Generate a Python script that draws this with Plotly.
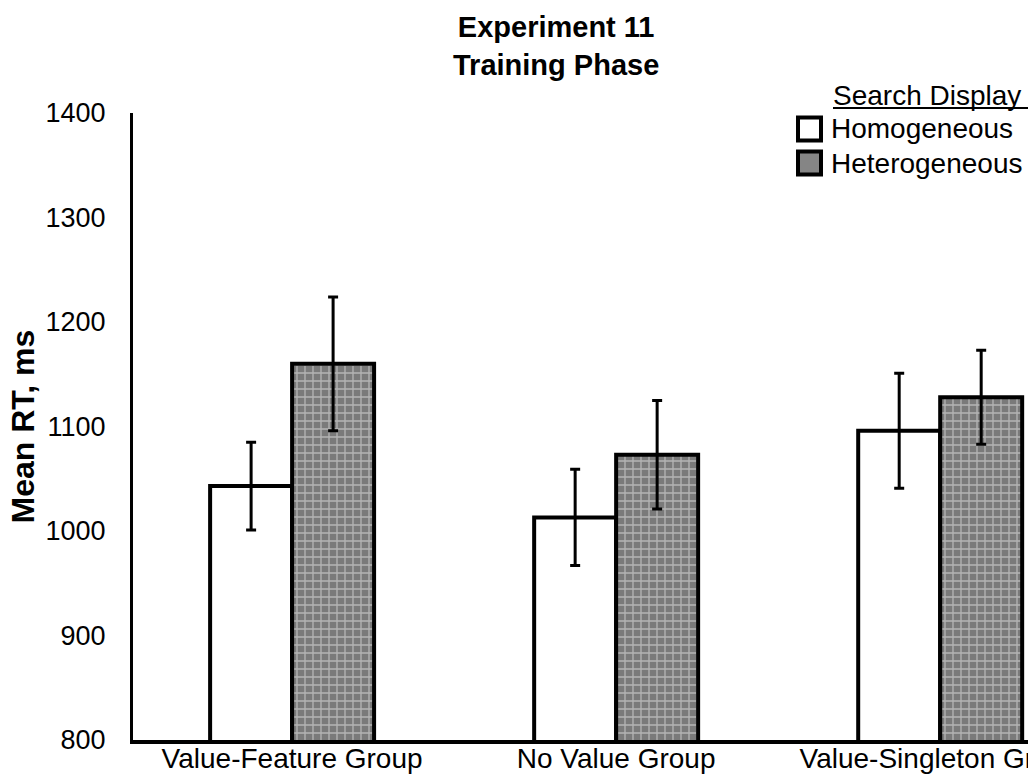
import plotly.graph_objects as go

# Mean response times (ms) with error bars, per group and search display
groups = ["Value-Feature Group", "No Value Group", "Value-Singleton Group"]
group_pos = [0, 1, 2]
homogeneous = [1043, 1013, 1096]
homogeneous_err = [42, 46, 55]
heterogeneous = [1160, 1073, 1128]
heterogeneous_err = [64, 52, 45]
y_ticks = [800, 900, 1000, 1100, 1200, 1300, 1400]

FONT = "Liberation Sans, Arial, sans-serif"

# plot-area geometry in pixels (used to place legend/title decorations)
W, H = 1028, 782
L, R, T, B = 133, 0, 113, 42
PW, PH = W - L - R, H - T - B


def px_x(x):
    return (x - L) / PW


def px_y(y):
    return (H - B - y) / PH


fig = go.Figure()

fig.add_trace(go.Bar(
    x=group_pos, y=homogeneous, name="Homogeneous",
    marker=dict(color="white", line=dict(color="black", width=4)),
    error_y=dict(type="data", array=homogeneous_err, color="black",
                 thickness=3, width=5),
    showlegend=False,
))
fig.add_trace(go.Bar(
    x=group_pos, y=heterogeneous, name="Heterogeneous",
    marker=dict(color="#8a8a8a", line=dict(color="black", width=4),
                pattern=dict(shape="+", fgcolor="#eeeeee", bgcolor="#7a7a7a",
                             size=8, solidity=0.3)),
    error_y=dict(type="data", array=heterogeneous_err, color="black",
                 thickness=3, width=5),
    showlegend=False,
))

shapes = []
annotations = []

# title
annotations.append(dict(
    text="<b>Experiment 11<br>Training Phase</b>", xref="paper", yref="paper",
    x=px_x(556), y=px_y(46), xanchor="center", yanchor="middle",
    showarrow=False, font=dict(family=FONT, size=29, color="black"),
))

# y-axis title
annotations.append(dict(
    text="<b>Mean RT, ms</b>", xref="paper", yref="paper",
    x=px_x(22), y=0.5, xanchor="center", yanchor="middle", textangle=-90,
    showarrow=False, font=dict(family=FONT, size=32, color="black"),
))

# legend
annotations.append(dict(
    text="Search Display", xref="paper", yref="paper",
    x=px_x(831), y=px_y(95), xanchor="left", yanchor="middle",
    showarrow=False, font=dict(family=FONT, size=28, color="black"),
))
shapes.append(dict(type="line", xref="paper", yref="paper",
                   x0=px_x(833), x1=px_x(1030), y0=px_y(108), y1=px_y(108),
                   line=dict(color="black", width=2)))
for label, fill, yc in [("Homogeneous", "white", 129), ("Heterogeneous", "#858585", 163)]:
    shapes.append(dict(type="rect", xref="paper", yref="paper",
                       x0=px_x(798), x1=px_x(821), y0=px_y(yc - 11.5), y1=px_y(yc + 11.5),
                       fillcolor=fill, line=dict(color="black", width=4)))
    annotations.append(dict(
        text=label, xref="paper", yref="paper",
        x=px_x(829), y=px_y(yc), xanchor="left", yanchor="middle",
        showarrow=False, font=dict(family=FONT, size=28, color="black"),
    ))

fig.update_layout(
    width=W, height=H,
    margin=dict(l=L, r=R, t=T, b=B, pad=0, autoexpand=False),
    paper_bgcolor="white", plot_bgcolor="white",
    barmode="group", bargap=0.494, bargroupgap=0,
    font=dict(family=FONT, color="black"),
    shapes=shapes, annotations=annotations,
)
fig.update_xaxes(
    range=[-0.491, 2.271], tickvals=group_pos, ticktext=groups,
    showgrid=False, zeroline=False, showline=True, linecolor="black",
    linewidth=4, ticks="", ticklabeloverflow="allow", ticklabelstandoff=-10,
    automargin=False, tickfont=dict(family=FONT, size=28, color="black"),
)
fig.update_yaxes(
    range=[800, 1400], tickvals=y_ticks, showgrid=False, zeroline=False,
    showline=True, linecolor="black", linewidth=3, ticks="",
    automargin=False, ticklabelstandoff=19,
    tickfont=dict(family=FONT, size=27, color="black"),
)

fig.write_html("out.html")
